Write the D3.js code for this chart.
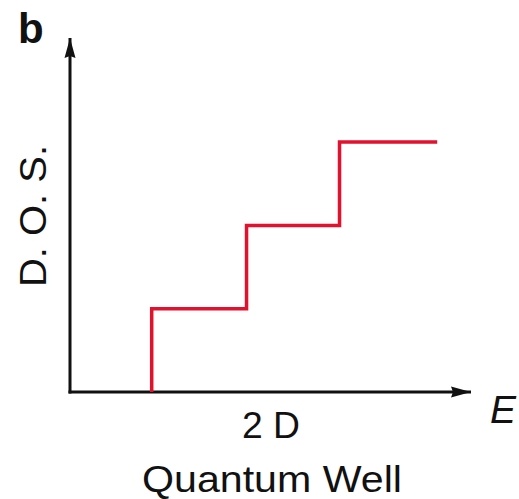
<!DOCTYPE html>
<html>
<head>
<meta charset="utf-8">
<script src="https://cdn.jsdelivr.net/npm/d3@7"></script>
<style>
  html, body { margin: 0; padding: 0; background: #fff; }
  svg { display: block; }
  text { font-family: "Liberation Sans", Arial, Helvetica, sans-serif; fill: #111; }
</style>
</head>
<body>
<svg id="chart" width="519" height="499"></svg>
<script>
// 2D density of states: constant plateaus that jump at each subband edge
const subbandEdges = [0.87, 1.88, 2.87];   // energies where a new subband opens
const dosLevels    = [1, 2, 3];            // plateau height after each edge
const energyEnd    = 3.91;                 // where the last plateau stops

const panelLabel = "b";
const yLabel = "D. O. S.";
const xLabel = "E";
const dimLabel = "2 D";
const systemLabel = "Quantum Well";

const svg = d3.select("#chart");

const x = d3.scaleLinear().domain([0, 4.27]).range([70, 471]);
const y = d3.scaleLinear().domain([0, 4.25]).range([392, 38]);

// arrowheads for the axes
const defs = svg.append("defs");
defs.append("marker")
  .attr("id", "arrow")
  .attr("viewBox", "0 0 20 12")
  .attr("refX", 20).attr("refY", 6)
  .attr("markerUnits", "userSpaceOnUse")
  .attr("markerWidth", 20).attr("markerHeight", 12)
  .attr("orient", "auto")
  .append("path")
  .attr("d", "M0,0.5 L20,6 L0,11.5 L2,6 Z")
  .attr("fill", "#111");

// axes (no ticks) drawn from the scale extents
const axes = svg.append("g")
  .attr("fill", "none")
  .attr("stroke", "#111")
  .attr("stroke-width", 3);

axes.append("line")
  .attr("x1", x(0)).attr("y1", y(0) + 1.5)
  .attr("x2", x(0)).attr("y2", y.range()[1])
  .attr("marker-end", "url(#arrow)");

axes.append("line")
  .attr("x1", x(0) - 1.5).attr("y1", y(0))
  .attr("x2", x.range()[1]).attr("y2", y(0))
  .attr("marker-end", "url(#arrow)");

// staircase
const pts = [{e: subbandEdges[0], d: 0}]
  .concat(subbandEdges.map((e, i) => ({e: e, d: dosLevels[i]})))
  .concat([{e: energyEnd, d: dosLevels[dosLevels.length - 1]}]);

const line = d3.line()
  .x(p => x(p.e))
  .y(p => y(p.d))
  .curve(d3.curveStepAfter);

svg.append("path")
  .datum(pts)
  .attr("d", line)
  .attr("fill", "none")
  .attr("stroke", "#e2112d")
  .attr("stroke-width", 3.5)
  .attr("stroke-linejoin", "miter");

// labels
svg.append("text")
  .attr("x", 18).attr("y", 43)
  .attr("font-size", 42).attr("font-weight", "bold")
  .text(panelLabel);

svg.append("text")
  .attr("transform", "translate(46,216) rotate(-90)")
  .attr("text-anchor", "middle")
  .attr("font-size", 37)
  .attr("textLength", 142)
  .attr("lengthAdjust", "spacingAndGlyphs")
  .text(yLabel);

svg.append("text")
  .attr("x", 490).attr("y", 423)
  .attr("font-size", 39).attr("font-style", "italic")
  .text(xLabel);

svg.append("text")
  .attr("x", 271).attr("y", 438)
  .attr("text-anchor", "middle")
  .attr("font-size", 36)
  .attr("textLength", 58)
  .attr("lengthAdjust", "spacingAndGlyphs")
  .text(dimLabel);

svg.append("text")
  .attr("x", 272).attr("y", 492)
  .attr("text-anchor", "middle")
  .attr("font-size", 37)
  .attr("textLength", 260)
  .attr("lengthAdjust", "spacingAndGlyphs")
  .text(systemLabel);
</script>
</body>
</html>
